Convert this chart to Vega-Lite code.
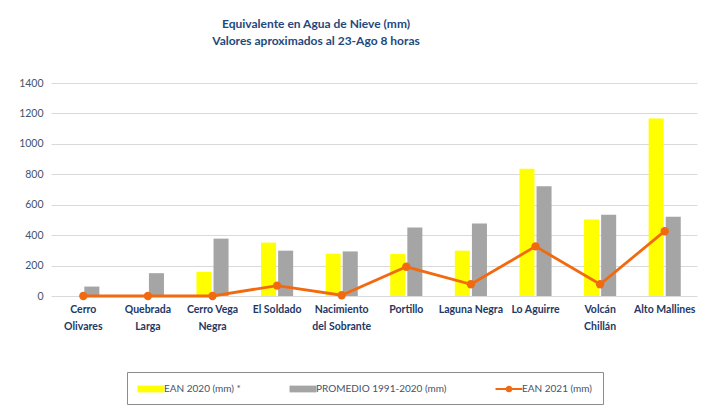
{
  "$schema": "https://vega.github.io/schema/vega-lite/v6.json",
  "width": 702,
  "height": 414,
  "autosize": {"type": "fit", "contains": "padding"},
  "padding": {"left": 18, "right": 5, "top": 18, "bottom": 82},
  "background": "white",
  "title": {
    "text": ["Equivalente en Agua de Nieve (mm)", "Valores aproximados al 23-Ago 8 horas"],
    "font": "Lato",
    "fontSize": 12,
    "fontWeight": "bold",
    "color": "#1F497D",
    "lineHeight": 17,
    "offset": 30,
    "dx": -58
  },
  "data": {
    "values": [
      {"station": "Cerro|Olivares", "series": "EAN 2020 (mm) *", "value": 0},
      {"station": "Cerro|Olivares", "series": "PROMEDIO 1991-2020 (mm)", "value": 62},
      {"station": "Cerro|Olivares", "series": "EAN 2021 (mm)", "value": 0},
      {"station": "Quebrada|Larga", "series": "EAN 2020 (mm) *", "value": 0},
      {"station": "Quebrada|Larga", "series": "PROMEDIO 1991-2020 (mm)", "value": 150},
      {"station": "Quebrada|Larga", "series": "EAN 2021 (mm)", "value": 0},
      {"station": "Cerro Vega|Negra", "series": "EAN 2020 (mm) *", "value": 159},
      {"station": "Cerro Vega|Negra", "series": "PROMEDIO 1991-2020 (mm)", "value": 377},
      {"station": "Cerro Vega|Negra", "series": "EAN 2021 (mm)", "value": 0},
      {"station": "El Soldado", "series": "EAN 2020 (mm) *", "value": 351},
      {"station": "El Soldado", "series": "PROMEDIO 1991-2020 (mm)", "value": 298},
      {"station": "El Soldado", "series": "EAN 2021 (mm)", "value": 68},
      {"station": "Nacimiento|del Sobrante", "series": "EAN 2020 (mm) *", "value": 278},
      {"station": "Nacimiento|del Sobrante", "series": "PROMEDIO 1991-2020 (mm)", "value": 293},
      {"station": "Nacimiento|del Sobrante", "series": "EAN 2021 (mm)", "value": 5},
      {"station": "Portillo", "series": "EAN 2020 (mm) *", "value": 276},
      {"station": "Portillo", "series": "PROMEDIO 1991-2020 (mm)", "value": 450},
      {"station": "Portillo", "series": "EAN 2021 (mm)", "value": 192},
      {"station": "Laguna Negra", "series": "EAN 2020 (mm) *", "value": 298},
      {"station": "Laguna Negra", "series": "PROMEDIO 1991-2020 (mm)", "value": 477},
      {"station": "Laguna Negra", "series": "EAN 2021 (mm)", "value": 77},
      {"station": "Lo Aguirre", "series": "EAN 2020 (mm) *", "value": 836},
      {"station": "Lo Aguirre", "series": "PROMEDIO 1991-2020 (mm)", "value": 722},
      {"station": "Lo Aguirre", "series": "EAN 2021 (mm)", "value": 326},
      {"station": "Volcán|Chillán", "series": "EAN 2020 (mm) *", "value": 503},
      {"station": "Volcán|Chillán", "series": "PROMEDIO 1991-2020 (mm)", "value": 534},
      {"station": "Volcán|Chillán", "series": "EAN 2021 (mm)", "value": 77},
      {"station": "Alto Mallines", "series": "EAN 2020 (mm) *", "value": 1167},
      {"station": "Alto Mallines", "series": "PROMEDIO 1991-2020 (mm)", "value": 521},
      {"station": "Alto Mallines", "series": "EAN 2021 (mm)", "value": 426}
    ]
  },
  "encoding": {
    "x": {
      "field": "station",
      "type": "nominal",
      "sort": null,
      "scale": {"paddingInner": 0, "paddingOuter": 0},
      "axis": {
        "title": null,
        "labelExpr": "split(datum.label, '|')",
        "labelAngle": 0,
        "labelFont": "Lato",
        "labelFontSize": 10.5,
        "labelFontWeight": "bold",
        "labelColor": "#1F3864",
        "labelLineHeight": 17,
        "labelPadding": 8,
        "ticks": false,
        "domain": false,
        "grid": false
      }
    },
    "y": {
      "field": "value",
      "type": "quantitative",
      "scale": {"domain": [0, 1400], "nice": false},
      "axis": {
        "title": null,
        "values": [0, 200, 400, 600, 800, 1000, 1200, 1400],
        "format": "d",
        "labelOverlap": false,
        "domain": false,
        "ticks": false,
        "labelFont": "Lato",
        "labelFontSize": 10.5,
        "labelColor": "#44546A",
        "labelPadding": 8,
        "gridColor": "#D9D9D9",
        "gridWidth": 1
      }
    }
  },
  "layer": [
    {
      "transform": [{"filter": "datum.series != 'EAN 2021 (mm)'"}],
      "mark": {"type": "bar"},
      "encoding": {
        "xOffset": {
          "field": "series",
          "type": "nominal",
          "scale": {"domain": ["EAN 2020 (mm) *", "PROMEDIO 1991-2020 (mm)"], "paddingInner": 0.12, "paddingOuter": 0.95}
        },
        "color": {
          "field": "series",
          "type": "nominal",
          "scale": {
            "domain": ["EAN 2020 (mm) *", "PROMEDIO 1991-2020 (mm)", "EAN 2021 (mm)"],
            "range": ["#FFFF00", "#A5A5A5", "#F26A10"]
          },
          "legend": {
            "title": null,
            "orient": "none",
            "legendX": 76,
            "legendY": 289,
            "direction": "horizontal",
            "gridAlign": "each",
            "columnPadding": 48,
            "symbolSize": 182,
            "symbolOffset": 7,
            "symbolStrokeWidth": 0,
            "symbolOpacity": 1,
            "labelFont": "Lato",
            "labelFontSize": 10,
            "labelColor": "#44546A",
            "labelOffset": 6,
            "strokeColor": "#8C8C8C",
            "fillColor": "white",
            "padding": 10
          }
        }
      }
    },
    {
      "transform": [{"filter": "datum.series == 'EAN 2021 (mm)'"}],
      "mark": {"type": "line", "strokeWidth": 2.8, "point": {"filled": true, "size": 70, "opacity": 1}},
      "encoding": {
        "order": {"value": null},
        "color": {"field": "series", "type": "nominal"}
      }
    },
    {
      "transform": [{"filter": "datum.value < 0"}],
      "mark": {"type": "point", "filled": true},
      "encoding": {
        "y": null,
        "color": {"field": "series", "type": "nominal"},
        "shape": {
          "field": "series",
          "type": "nominal",
          "scale": {
            "domain": ["EAN 2020 (mm) *", "PROMEDIO 1991-2020 (mm)", "EAN 2021 (mm)"],
            "range": [
              "M-2,-0.5H2V0.5H-2Z",
              "M-2,-0.5H2V0.5H-2Z",
              "M-2,-0.16H2V0.16H-2Z M-0.5,0A0.5,0.5 0 1,1 0.5,0A0.5,0.5 0 1,1 -0.5,0Z"
            ]
          },
          "legend": {"title": null}
        }
      }
    }
  ],
  "config": {
    "view": {"stroke": null},
    "font": "Lato"
  }
}
